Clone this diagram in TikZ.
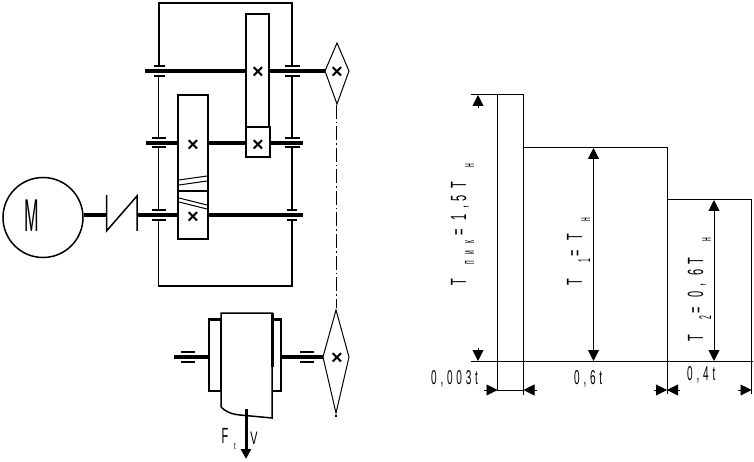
\documentclass[tikz,border=0pt]{standalone}
\usepackage{fontspec}
\setmainfont{Liberation Sans}
\usetikzlibrary{arrows.meta}
\newcommand{\tallfont}[1]{\scalebox{0.5}[1]{\fontsize{22}{24}\selectfont #1}}
\newcommand{\dimfont}[1]{\scalebox{0.5}[1]{\fontsize{20}{24}\selectfont\addfontfeature{LetterSpace=38}#1}}
\newcommand{\subfont}[1]{\raisebox{-8pt}{\scalebox{0.4}[1]{\fontsize{17}{18}\selectfont #1}}}
\newcommand{\gp}[1]{\hspace{#1pt}}
\tikzset{
	shaft/.style={line width=3.6pt},
	wall/.style={line width=1.5pt},
	thinline/.style={line width=1pt},
	plate/.style={line width=1.5pt},
	gearbox/.style={draw,line width=1.5pt,fill=white},
	crossmark/.style={inner sep=0pt,yshift=-1.5pt,font=\bfseries\fontsize{20}{20}\selectfont},
	dimtip/.style={-{Triangle[length=11pt,width=11pt]},line width=0.9pt},
	bothtip/.style={{Triangle[length=11pt,width=11pt]}-{Triangle[length=11pt,width=11pt]},line width=0.9pt},
	ltext/.style={inner sep=0pt}
}
\begin{document}
\begin{tikzpicture}[x=1pt,y=-1pt]
	\useasboundingbox (0,0) rectangle (754,462);
	% housing
	\draw[wall] (159,67) -- (159,3) -- (292,3) -- (292,66);
	\draw[thinline] (158.5,76) -- (158.5,138);
	\draw[wall] (292,76) -- (292,138);
	\draw[wall] (158.5,147) -- (158.5,209);
	\draw[wall] (292,147) -- (292,209);
	\draw[wall] (158.5,220) -- (158.5,286) -- (292,286) -- (292,220);
	% shafts
	\draw[shaft] (145,71) -- (325,71);
	\draw[shaft] (146,143) -- (303,143);
	\draw[shaft] (84,215) -- (106,215);
	\draw[shaft] (137,215) -- (303,215);
	% bearings
	\foreach \y in {66,76} {
		\draw[plate] (154,\y) -- (165,\y);
		\draw[plate] (285,\y) -- (300,\y);
	}
	\foreach \y in {138,147} {
		\draw[plate] (152,\y) -- (166,\y);
		\draw[plate] (285,\y) -- (300,\y);
	}
	\foreach \y in {210,220} {
		\draw[plate] (152,\y) -- (166,\y);
		\draw[plate] (287,\y) -- (297,\y);
	}
	% gears
	\draw[gearbox] (246,14) rectangle (269,127);
	\draw[gearbox] (246,127) rectangle (270,157);
	\draw[gearbox] (178,95) rectangle (208,239);
	\draw[wall] (178,191) -- (208,191);
	\draw[thinline] (179,180) -- (207,176);
	\draw[thinline] (179,185) -- (207,181);
	\draw[thinline] (179,198) -- (207,205);
	\draw[thinline] (179,202) -- (207,209);
	% motor and coupling
	\node[circle,draw,line width=1.5pt,fill=white,minimum size=80pt,inner sep=0pt] (motor) at (43,217.5) {};
	\node[ltext] (motorlabel) at (32,216) {\scalebox{0.38}[1]{\fontsize{46}{46}\selectfont M}};
	\draw[wall] (106.5,195) -- (106.5,231) -- (137,196) -- (137,231);
	% sprocket top
	\draw[thinline,fill=white] (325,71) -- (337,43) -- (349,71) -- (337,104) -- cycle;
	\draw[thinline,dash pattern=on 14pt off 3pt on 1.5pt off 3pt] (336.5,105) -- (336.5,308);
	% lower sprocket, drum
	\draw[thinline,fill=white] (323,357) -- (336,310) -- (349,357) -- (336,413) -- cycle;
	\draw[line width=2pt] (336,414.5) -- (336,417);
	\draw[wall] (209,319) rectangle (221,391);
	\draw[wall] (272,319) rectangle (281,391);
	\draw[line width=3pt] (209,319.5) -- (221,319.5);
	\draw[line width=3pt] (272,319.5) -- (281,319.5);
	\draw[shaft] (174,357) -- (209,357);
	\draw[shaft] (281,357) -- (323,357);
	\foreach \y in {352,362} {
		\draw[plate] (181,\y) -- (195,\y);
		\draw[plate] (300,\y) -- (314,\y);
	}
	\draw[wall,fill=white] (221,407) -- (221,313) -- (272,313) -- (272,418) -- (240,415) .. controls (230,414) and (225,411) .. (221,407);
	\draw[line width=3pt] (272,313) -- (272,367);
	\draw[-{Triangle[length=10pt,width=10pt]},line width=3pt] (246,409) -- (246,459);
	% crosses
	\foreach \a/\b/\n in {193/144/ca,258/71/cb,258/144/cc,193/216/cd,337/71/ce,337/357/cf}
		\node[crossmark] (\n) at (\a,\b) {×};
	\node[ltext] (flabel) at (225,436) {\tallfont{F}};
	\node[ltext] (tlabel) at (235,446) {\scalebox{0.6}[1]{\fontsize{10}{10}\selectfont t}};
	\node[ltext] (vlabel) at (254,438) {\scalebox{0.6}[1]{\fontsize{18}{18}\selectfont V}};
	% load diagram
	\draw[thinline] (471,361) -- (753,361);
	\draw[thinline] (471,95) -- (524,95);
	\draw[thinline] (497.5,95) -- (497.5,391);
	\draw[thinline] (523.5,95) -- (523.5,395);
	\draw[thinline] (523.5,148) -- (667,148) -- (667,394);
	\draw[thinline] (667,200) -- (751.5,200) -- (751.5,394);
	\draw[dimtip] (478,108) -- (478,95);
	\draw[dimtip] (478,348) -- (478,361);
	\draw[bothtip] (593.5,148) -- (593.5,361);
	\draw[bothtip] (714,200) -- (714,361);
	\draw[dimtip] (484,390) -- (497.5,390);
	\draw[dimtip] (537,390) -- (523.5,390);
	\draw[thinline] (497.5,390) -- (523.5,390);
	\draw[dimtip] (654,390) -- (667,390);
	\draw[dimtip] (680,390) -- (667,390);
	\draw[dimtip] (738,390) -- (751.5,390);
	% labels
	\node[ltext,rotate=90,anchor=base west] (tpeak) at (466,285.4) {\tallfont{T}\gp{13.8}\subfont{п}\gp{6.3}\subfont{и}\gp{7.3}\subfont{к}\gp{5}\tallfont{=}\gp{8.75}\tallfont{1}\gp{5.4}\tallfont{,}\gp{4.4}\tallfont{5}\gp{6.6}\tallfont{T}\gp{14.8}\subfont{н}};
	\node[ltext,rotate=90,anchor=base west] (tone) at (582,285.4) {\tallfont{T}\gp{15.75}\subfont{1}\gp{2.9}\tallfont{=}\gp{9.45}\tallfont{T}\gp{11.8}\subfont{н}};
	\node[ltext,rotate=90,anchor=base west] (ttwo) at (703,341.4) {\tallfont{T}\gp{14.75}\subfont{2}\gp{2.9}\tallfont{=}\gp{8.75}\tallfont{0}\gp{5.4}\tallfont{,}\gp{7.4}\tallfont{6}\gp{5.6}\tallfont{T}\gp{15.8}\subfont{н}};
	\node[ltext,anchor=base west] (lbla) at (431,384) {\dimfont{0,003t}};
	\node[ltext,anchor=base west] (lblb) at (574,384) {\dimfont{0,6t}};
	\node[ltext,anchor=base west] (lblc) at (687,380) {\dimfont{0,4t}};
\end{tikzpicture}
\end{document}
